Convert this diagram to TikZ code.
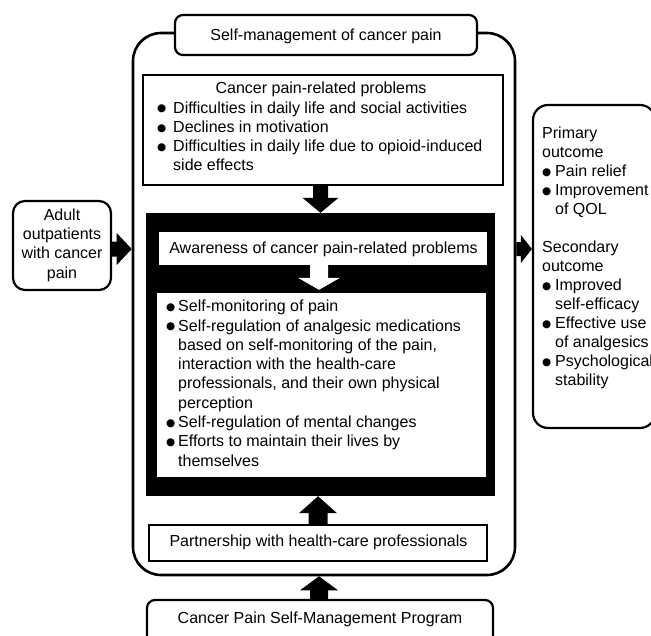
\documentclass[tikz,border=0pt]{standalone}
\usepackage{fontspec}
\setmainfont{Liberation Sans}
\newfontfamily\dejavu{DejaVu Sans}
\usetikzlibrary{calc}
\newcommand\mybullet{\raisebox{1.3pt}{\dejavu\fontsize{10.5}{11}\selectfont ●}}
\newcommand\bpt[1][16pt]{\makebox[#1][l]{\mybullet}}
\newcommand\hind[1][16pt]{\hspace*{#1}}
\newcommand\topstrut{\rule{0pt}{14pt}}
\begin{document}
\begin{tikzpicture}[x=1pt,y=-1pt,
  box/.style={draw, line width=2.2pt, fill=white, inner sep=0pt},
  blackbox/.style={fill=black, inner sep=0pt},
  whitebox/.style={fill=white, inner sep=0pt},
  txt/.style={inner sep=0pt, font=\fontsize{16}{19.3}\selectfont},
  fat/.style n args={3}{to path={
    ($(\tikztostart)!#1!90:(\tikztotarget)$) --
    ($(\tikztotarget)!#3!(\tikztostart)!#1!-90:(\tikztostart)$) --
    ($(\tikztotarget)!#3!(\tikztostart)!#2!-90:(\tikztostart)$) --
    (\tikztotarget) --
    ($(\tikztotarget)!#3!(\tikztostart)!#2!90:(\tikztostart)$) --
    ($(\tikztotarget)!#3!(\tikztostart)!#1!90:(\tikztostart)$) --
    ($(\tikztostart)!#1!-90:(\tikztotarget)$) -- cycle}}]
\useasboundingbox (0,0) rectangle (651,635);

% boxes
\node[box, fill=none, line width=2.6pt, rounded corners=28pt, minimum width=382pt, minimum height=542pt] (outer) at (324,304) {};
\node[box, rounded corners=8pt, minimum width=302pt, minimum height=40pt] (ttlbox) at (326,35) {};
\node[box, minimum width=360pt, minimum height=110pt] (prob) at (323,130) {};
\node[blackbox, minimum width=349pt, minimum height=283pt] (blk) at (320.5,354.5) {};
\node[whitebox, minimum width=328pt, minimum height=33pt] (aw) at (323,248.5) {};
\node[whitebox, minimum width=329pt, minimum height=184pt] (lst) at (321.5,385) {};
\node[box, minimum width=338pt, minimum height=36pt] (part) at (318,543) {};
\node[box, rounded corners=8pt, minimum width=346pt, minimum height=60pt] (prog) at (320,630) {};
\node[box, rounded corners=12pt, minimum width=98pt, minimum height=89pt] (lb) at (62,245.5) {};
\node[box, rounded corners=15pt, minimum width=122pt, minimum height=323pt] (rb) at (594,266.5) {};

% arrows
\coordinate (ay) at (0,249);
\fill (blk.north |- prob.south) to[fat={7.5pt}{18pt}{15pt}] (blk.north);
\fill[white] ([xshift=-4pt]aw.south) to[fat={9pt}{21pt}{12pt}] ([xshift=-2.5pt,yshift=3pt]lst.north);
\fill (part.north) to[fat={9.5pt}{19pt}{17pt}] (blk.south -| part.north);
\fill ([xshift=-1pt]prog.north) to[fat={9pt}{19pt}{14pt}] ([xshift=-1pt]prog.north |- outer.south);
\fill (lb.east |- ay) to[fat={7.5pt}{16pt}{15pt}] (outer.west |- ay);
\fill (outer.east |- ay) to[fat={7pt}{14pt}{11pt}] (rb.west |- ay);

% texts
\node[txt, anchor=base] (t1) at (326,40.5) {Self-management of cancer pain};
\node[txt, anchor=base] (t2) at (321,93.5) {Cancer pain-related problems};
\node[txt, anchor=north west, align=left] (t3) at (157,98.8) {\topstrut\bpt Difficulties in daily life and social activities\\
\bpt Declines in motivation\\
\bpt Difficulties in daily life due to opioid-induced\\
\hind side effects};
\node[txt, anchor=base] (t4) at (323.5,253.2) {Awareness of cancer pain-related problems};
\node[txt, anchor=north west, align=left] (t5) at (166,297.5) {\topstrut\bpt[12pt]Self-monitoring of pain\\
\bpt[12pt]Self-regulation of analgesic medications\\
\hind[12pt]based on self-monitoring of the pain,\\
\hind[12pt]interaction with the health-care\\
\hind[12pt]professionals, and their own physical\\
\hind[12pt]perception\\
\bpt[12pt]Self-regulation of mental changes\\
\bpt[12pt]Efforts to maintain their lives by\\
\hind[12pt]themselves};
\node[txt, anchor=base] (t6) at (318.5,546.5) {Partnership with health-care professionals};
\node[txt, anchor=base] (t7) at (320,623.2) {Cancer Pain Self-Management Program};
\node[txt, anchor=north, align=center] (t8) at (62,206) {\topstrut Adult\\outpatients\\with cancer\\pain};
\node[txt, font=\fontsize{16}{19}\selectfont, anchor=north west, align=left] (t9) at (542,124.5) {\topstrut Primary\\
outcome\\
\bpt[13pt]Pain relief\\
\bpt[13pt]Improvement\\
\hind[13pt]of QOL\\
\mbox{}\\
Secondary\\
outcome\\
\bpt[13pt]Improved\\
\hind[13pt]self-efficacy\\
\bpt[13pt]Effective use\\
\hind[13pt]of analgesics\\
\bpt[13pt]Psychological\\
\hind[13pt]stability};
\end{tikzpicture}
\end{document}
